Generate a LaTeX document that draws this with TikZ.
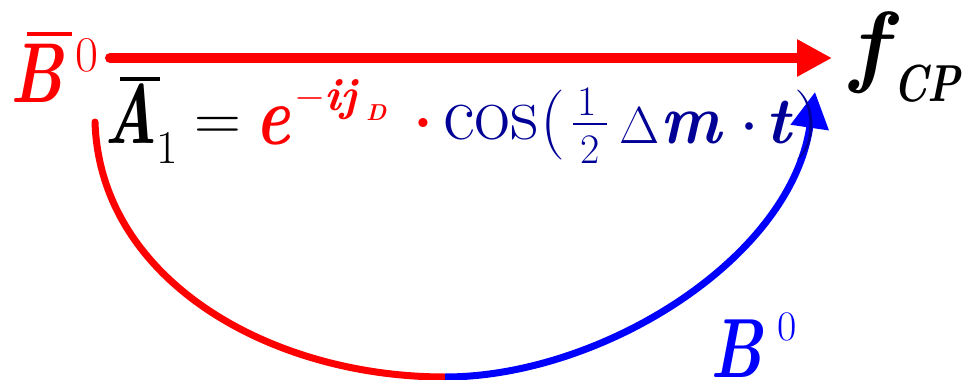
\RequirePackage{fix-cm}
\documentclass[tikz,border=0pt]{standalone}
\usepackage{graphicx}
\usetikzlibrary{arrows.meta}
\definecolor{cNavy}{RGB}{0,0,150}
\newcommand\fsz[1]{\fontsize{#1}{#1}\selectfont}
\newcommand\sx[2]{\scalebox{#1}[1]{#2}}

\begin{document}
\begin{tikzpicture}[x=1pt, y=-1pt,
    lbl/.style={inner sep=0pt, anchor=base west},
    arc/.style={line width=7pt},
    redarr/.style={red, line width=10pt, line cap=round, -{Triangle[length=35pt, width=35pt]}},
    bluearr/.style={arc, blue, -{Triangle[length=36pt, width=37pt]}}]
  \useasboundingbox (0,0) rectangle (964,380);
  \coordinate (rS) at (110,58);
  \coordinate (rE) at (832,58);
  \coordinate (arcL) at (95,122);
  \coordinate (arcM) at (445,377);
  \coordinate (arcR) at (815,92);
  \draw[redarr] (rS) -- (rE);
  \draw[arc, red, line cap=round] (arcL) .. controls (100,280) and (270,377) .. (arcM);
  \draw[bluearr] (arcM) .. controls (600,377) and (790,260) .. (arcR);
  % B-bar, f_CP, B
  \node[lbl, red] (bbar) at (10,102) {\fsz{85}\bfseries\itshape\sx{0.76}{B}};
  \node[lbl, red] (bbarsup) at (75,71) {\fsz{50}0};
  \draw[red, line width=4pt] (27,33.5) -- (72,33.5);
  \node[lbl] (f) at (850,75) {\fsz{91}\bfseries\itshape f};
  \node[lbl] (cp) at (893,101) {\fsz{52}\bfseries\itshape\sx{0.8}{CP}};
  \node[lbl, blue] (b) at (710,377) {\fsz{84}\bfseries\itshape\sx{0.76}{B}};
  \node[lbl, blue] (bsup) at (777,340) {\fsz{42}0};
  % amplitude
  \node[lbl] (a) at (104,143) {\fsz{84}\bfseries\itshape\sx{0.73}{A}};
  \draw[line width=4pt] (120,78.5) -- (160,78.5);
  \node[lbl] (one) at (156,163) {\fsz{47}1};
  \node[lbl] (eq) at (194,140) {\fsz{65}=};
  \node[lbl, red] (e) at (255,144) {\fsz{84}\bfseries\itshape\sx{0.78}{e}};
  \node[lbl, red] (minus) at (294,108) {\fsz{40}$-$};
  \node[lbl, red] (ij) at (324,110) {\fsz{46}\bfseries\itshape ij};
  \node[lbl, red] (dd) at (366,120) {\fsz{23}\bfseries\itshape D};
  \node[lbl, red] (dot) at (411,144.5) {\fsz{86}$\cdot$};
  \node[lbl, cNavy] (cos) at (443,139) {\fsz{78}cos};
  \node[lbl, cNavy] (lp) at (540,142) {\fsz{70}(};
  \node[lbl, cNavy] (num) at (577,115) {\fsz{42}1};
  \draw[cNavy, line width=2.5pt] (573,124) -- (607,124);
  \node[lbl, cNavy] (den) at (580,163) {\fsz{42}2};
  \node[lbl, cNavy] (delta) at (619,143) {\fsz{52}$\Delta$};
  \node[lbl, cNavy] (m) at (660,143) {\fsz{70}\bfseries\itshape\sx{0.92}{m}};
  \node[lbl, cNavy] (cdot) at (739,144) {\fsz{72}$\cdot$};
  \node[lbl, cNavy] (t) at (765,143) {\fsz{66}\bfseries\itshape t};
  \node[lbl, cNavy] (rp) at (794,142) {\fsz{70})};
\end{tikzpicture}
\end{document}
